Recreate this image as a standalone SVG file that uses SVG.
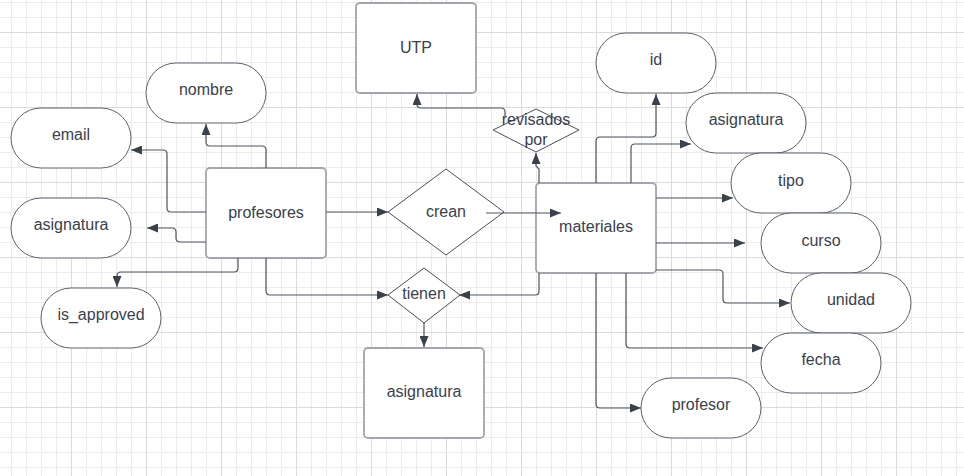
<svg xmlns="http://www.w3.org/2000/svg" width="964" height="476" viewBox="0 0 964 476">
<style>
.box{fill:#fff;stroke:#a2a6ac;stroke-width:1.8}
.pill{fill:#fff;stroke:#5b616a;stroke-width:1}
.dia{fill:#fff;stroke:#4a5059;stroke-width:1}
.t{font-family:"Liberation Sans",Arial,sans-serif;font-size:16px;fill:#3a414a;text-anchor:middle}
.c{fill:none;stroke:#4f555e;stroke-width:1.2;marker-end:url(#ah)}
</style>
<defs>
<pattern id="gmin" patternUnits="userSpaceOnUse" x="11" y="2" width="15" height="15">
<path d="M0.5,0V15M0,0.5H15" stroke="#ebecee" stroke-width="1" fill="none"/>
</pattern>
<pattern id="gmaj" patternUnits="userSpaceOnUse" x="71" y="32" width="75" height="75">
<path d="M0.5,0V75M0,0.5H75" stroke="#dadbde" stroke-width="1" fill="none"/>
</pattern>
<marker id="ah" markerUnits="userSpaceOnUse" markerWidth="11" markerHeight="9" refX="11" refY="4.5" orient="auto">
<path d="M0,0L11,4.5L0,9z" fill="#3a414a"/>
</marker>
</defs>
<rect width="964" height="476" fill="#fff"/>
<rect width="964" height="476" fill="url(#gmin)"/>
<rect width="964" height="476" fill="url(#gmaj)"/>

<g id="utp"><rect class="box" x="356" y="3" width="120" height="90" rx="4"/><text class="t" x="416" y="53">UTP</text></g>
<g id="nombre"><rect class="pill" x="146" y="63" width="120" height="60" rx="30"/><text class="t" x="206" y="95">nombre</text></g>
<g id="email"><rect class="pill" x="11" y="108" width="120" height="60" rx="30"/><text class="t" x="71" y="140">email</text></g>
<g id="asignatura-prof"><rect class="pill" x="11" y="198" width="120" height="60" rx="30"/><text class="t" x="71" y="230">asignatura</text></g>
<g id="profesores"><rect class="box" x="206" y="168" width="120" height="90" rx="4"/><text class="t" x="266" y="218">profesores</text></g>
<g id="is_approved"><rect class="pill" x="41" y="288" width="120" height="60" rx="30"/><text class="t" x="101" y="320">is_approved</text></g>
<g id="crean"><path class="dia" d="M388,212L446,169L504,212L446,255z"/><text class="t" x="446" y="217">crean</text></g>
<g id="revisados"><path class="dia" d="M493,130L536,109L579,130L536,152z"/><text class="t" x="536" y="125">revisados</text><text class="t" x="536" y="145">por</text></g>
<g id="materiales"><rect class="box" x="536" y="183" width="120" height="90" rx="4"/><text class="t" x="596" y="232">materiales</text></g>
<g id="tienen"><path class="dia" d="M388,295L424,268L460,295L424,323z"/><text class="t" x="424" y="299">tienen</text></g>
<g id="asignatura-ent"><rect class="box" x="364" y="348" width="120" height="90" rx="4"/><text class="t" x="424" y="397">asignatura</text></g>
<g id="id"><rect class="pill" x="596" y="33" width="120" height="60" rx="30"/><text class="t" x="656" y="65">id</text></g>
<g id="asignatura-mat"><rect class="pill" x="686" y="93" width="120" height="60" rx="30"/><text class="t" x="746" y="125">asignatura</text></g>
<g id="tipo"><rect class="pill" x="731" y="153" width="120" height="60" rx="30"/><text class="t" x="791" y="186">tipo</text></g>
<g id="curso"><rect class="pill" x="761" y="213" width="120" height="60" rx="30"/><text class="t" x="821" y="246">curso</text></g>
<g id="unidad"><rect class="pill" x="791" y="273" width="120" height="60" rx="30"/><text class="t" x="851" y="305">unidad</text></g>
<g id="fecha"><rect class="pill" x="761" y="333" width="120" height="60" rx="30"/><text class="t" x="821" y="365">fecha</text></g>
<g id="profesor"><rect class="pill" x="641" y="378" width="120" height="60" rx="30"/><text class="t" x="701" y="410">profesor</text></g>

<g id="connectors">
<path class="c" d="M266,168V150Q266,146 262,146H210Q206,146 206,142V124"/>
<path class="c" d="M206,212H171Q167,212 167,208V154Q167,150 163,150H131"/>
<path class="c" d="M206,242H180Q176,242 176,238V232Q176,228 172,228H147"/>
<path class="c" d="M238,258V268Q238,272 234,272H121Q117,272 117,276V287"/>
<path class="c" d="M266,258V291Q266,295 270,295H388"/>
<path class="c" d="M326,212H388"/>
<path class="c" d="M486,213H561"/>
<path class="c" d="M505,117V112Q505,108 501,108H421Q417,108 417,104V94"/>
<path class="c" d="M539,183V169L536,166V153"/>
<path class="c" d="M596,183V141Q596,137 600,137H652Q656,137 656,133V94"/>
<path class="c" d="M631,183V148Q631,144 635,144H691"/>
<path class="c" d="M656,198H733"/>
<path class="c" d="M656,243H745"/>
<path class="c" d="M656,270H719Q723,270 723,274V299Q723,303 727,303H790"/>
<path class="c" d="M626,273V344Q626,348 630,348H763"/>
<path class="c" d="M596,273V404Q596,408 600,408H641"/>
<path class="c" d="M539,273V291Q539,295 535,295H459"/>
<path class="c" d="M424,323V347"/>
</g>
</svg>
